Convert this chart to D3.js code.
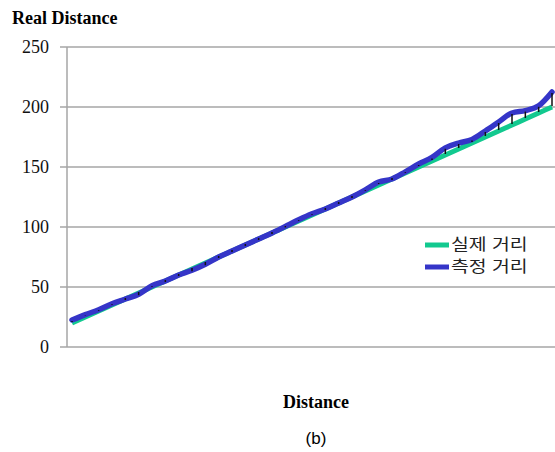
<!DOCTYPE html>
<html lang="ko">
<head>
<meta charset="UTF-8">
<title>Real Distance</title>
<script src="https://d3js.org/d3.v7.min.js"></script>
<style>
  body { margin: 0; background: #fff; }
</style>
</head>
<body>
<div id="chart"></div>
<script>
const width = 555;
const height = 452;

// actual distance (green) and measured distance (blue)
const actual = [20, 25, 30, 35, 40, 45, 50, 55, 60, 65, 70, 75, 80, 85, 90, 95, 100, 105, 110,
  115, 120, 125, 130, 135, 140, 145, 150, 155, 160, 165, 170, 175, 180, 185, 190, 195, 200];
const measured = [22.5, 27, 31, 36, 40, 44, 51, 55, 60, 64, 69, 75, 80, 85, 90, 95, 100.5, 106, 111,
  115, 120, 125, 131, 137.5, 140, 146, 152.5, 158, 166, 170, 173, 180, 187.5, 195, 197, 201, 212.5];
const yTicks = [0, 50, 100, 150, 200, 250];
const seriesNames = ["실제 거리", "측정 거리"];
const colors = ["#12c98f", "#3535c8"];

const svg = d3.select("#chart").append("svg")
  .attr("width", width)
  .attr("height", height);

const x = d3.scalePoint()
  .domain(d3.range(actual.length))
  .range([72, 552]);

const y = d3.scaleLinear()
  .domain([0, 250])
  .range([347, 47]);

// gridlines
svg.append("g")
  .selectAll("line")
  .data(yTicks)
  .join("line")
  .attr("x1", 60)
  .attr("x2", width)
  .attr("y1", d => y(d))
  .attr("y2", d => y(d))
  .attr("stroke", "#a6a6a6")
  .attr("stroke-width", 1.5);

// y axis line
svg.append("line")
  .attr("x1", 67).attr("x2", 67)
  .attr("y1", y(250)).attr("y2", y(0))
  .attr("stroke", "#a6a6a6")
  .attr("stroke-width", 1.5);

// y tick labels
svg.append("g")
  .selectAll("text")
  .data(yTicks)
  .join("text")
  .attr("x", 49)
  .attr("y", d => y(d))
  .attr("dy", "0.35em")
  .attr("text-anchor", "end")
  .style("font-family", "'Liberation Serif', 'Times New Roman', serif")
  .style("font-size", "18px")
  .attr("fill", "#111")
  .text(d => d);

const line = d3.line()
  .x((d, i) => x(i))
  .y(d => y(d))
  .curve(d3.curveMonotoneX);

svg.append("path")
  .datum(actual)
  .attr("fill", "none")
  .attr("stroke", colors[0])
  .attr("stroke-width", 5)
  .attr("stroke-linejoin", "round")
  .attr("d", line);

svg.append("path")
  .datum(measured)
  .attr("fill", "none")
  .attr("stroke", colors[1])
  .attr("stroke-width", 5.5)
  .attr("stroke-linejoin", "round")
  .attr("stroke-linecap", "round")
  .attr("d", line);

// error bars between measured and actual
svg.append("g")
  .selectAll("line")
  .data(measured)
  .join("line")
  .attr("x1", (d, i) => x(i))
  .attr("x2", (d, i) => x(i))
  .attr("y1", d => y(d) + 1)
  .attr("y2", (d, i) => y(actual[i]) - 1)
  .attr("stroke", "#111")
  .attr("stroke-width", 1.5);

// legend (korean labels drawn a bit wider, like the original font)
const legend = svg.append("g")
  .attr("transform", "translate(425,245)");

legend.selectAll("g")
  .data(seriesNames)
  .join("g")
  .attr("transform", (d, i) => `translate(0,${i * 22})`)
  .each(function (d, i) {
    const g = d3.select(this);
    g.append("line")
      .attr("x1", 0).attr("x2", 24)
      .attr("stroke", colors[i])
      .attr("stroke-width", 5);
    g.append("text")
      .attr("transform", "translate(26,0) scale(1.25,1)")
      .attr("dy", "0.35em")
      .style("font-family", "'Noto Sans CJK KR', sans-serif")
      .style("font-size", "15.5px")
      .attr("fill", "#222")
      .text(d);
  });

// titles
svg.append("text")
  .attr("x", 12)
  .attr("y", 24)
  .style("font-family", "'Liberation Serif', 'Times New Roman', serif")
  .style("font-weight", "bold")
  .style("font-size", "18px")
  .text("Real Distance");

svg.append("text")
  .attr("x", 316)
  .attr("y", 408)
  .attr("text-anchor", "middle")
  .style("font-family", "'Liberation Serif', 'Times New Roman', serif")
  .style("font-weight", "bold")
  .style("font-size", "18px")
  .text("Distance");

svg.append("text")
  .attr("x", 316)
  .attr("y", 444)
  .attr("text-anchor", "middle")
  .style("font-family", "'Liberation Sans', Arial, sans-serif")
  .style("font-size", "17px")
  .text("(b)");
</script>
</body>
</html>
